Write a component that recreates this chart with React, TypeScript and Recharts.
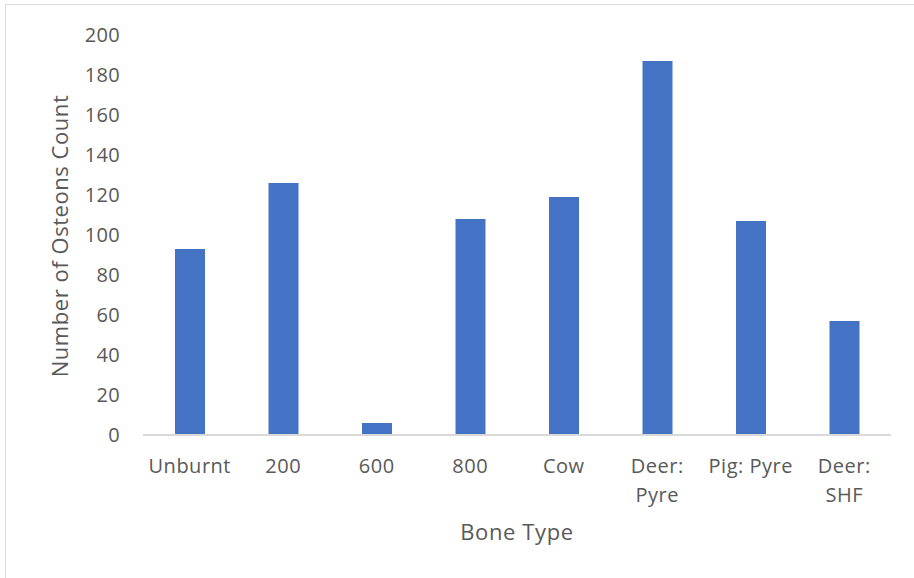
import React from "react";
import { BarChart, Bar, XAxis, YAxis, Label } from "recharts";

const categories = ["Unburnt", "200", "600", "800", "Cow", "Deer: Pyre", "Pig: Pyre", "Deer: SHF"];
const osteonCounts = [93, 126, 6, 108, 119, 187, 107, 57];
const yTicks = [0, 20, 40, 60, 80, 100, 120, 140, 160, 180, 200];

const data = categories.map((name, i) => ({ name, count: osteonCounts[i] }));

const FONT = "'Open Sans', sans-serif";
const TEXT = "#595959";

const splitLabel = (s: string): string[] => {
  if (s === "Deer: Pyre") return ["Deer:", "Pyre"];
  if (s === "Deer: SHF") return ["Deer:", "SHF"];
  return [s];
};

const XTick = (props: any) => {
  const { x, y, payload } = props;
  const lines = splitLabel(payload.value);
  return (
    <g>
      {lines.map((l, i) => (
        <text
          key={i}
          x={x}
          y={y + 25 + i * 29}
          textAnchor="middle"
          dominantBaseline="middle"
          fill={TEXT}
          fontSize={20}
          letterSpacing={0.5}
          fontFamily={FONT}
        >
          {l}
        </text>
      ))}
    </g>
  );
};

export default function App() {
  return (
    <div style={{ position: "absolute", left: 0, top: 0, width: 914, height: 578, background: "#fff" }}>
      <div
        style={{
          position: "absolute",
          left: 5,
          top: 4,
          width: 920,
          height: 590,
          border: "1px solid #d9d9d9",
          boxSizing: "border-box",
        }}
      />
      <div style={{ position: "absolute", left: 0, top: 0 }}>
        <BarChart
          width={914}
          height={578}
          data={data}
          margin={{ top: 35, right: 23, bottom: 0, left: 0 }}
        >
          <YAxis
            type="number"
            domain={[0, 200]}
            ticks={yTicks}
            width={143}
            axisLine={false}
            tickLine={false}
            tickSize={0}
            tickMargin={23}
            tick={{ fill: TEXT, fontSize: 20, fontFamily: FONT, letterSpacing: 0.3 }}
          >
            <Label
              value="Number of Osteons Count"
              angle={-90}
              position="center"
              content={() => (
                <text
                  x={62}
                  y={236}
                  transform="rotate(-90 62 236)"
                  textAnchor="middle"
                  dominantBaseline="middle"
                  fill={TEXT}
                  fontSize={22}
                  letterSpacing={0.55}
                  fontFamily={FONT}
                >
                  Number of Osteons Count
                </text>
              )}
            />
          </YAxis>
          <XAxis
            dataKey="name"
            height={143}
            axisLine={{ stroke: "#d9d9d9", strokeWidth: 2 }}
            tickLine={false}
            interval={0}
            tick={<XTick />}
          >
            <Label
              content={() => (
                <text
                  x={517}
                  y={534}
                  textAnchor="middle"
                  dominantBaseline="middle"
                  fill={TEXT}
                  fontSize={22}
                  letterSpacing={0.6}
                  fontFamily={FONT}
                >
                  Bone Type
                </text>
              )}
            />
          </XAxis>
          <Bar dataKey="count" fill="#4472c4" barSize={30} isAnimationActive={false} />
        </BarChart>
      </div>
    </div>
  );
}
